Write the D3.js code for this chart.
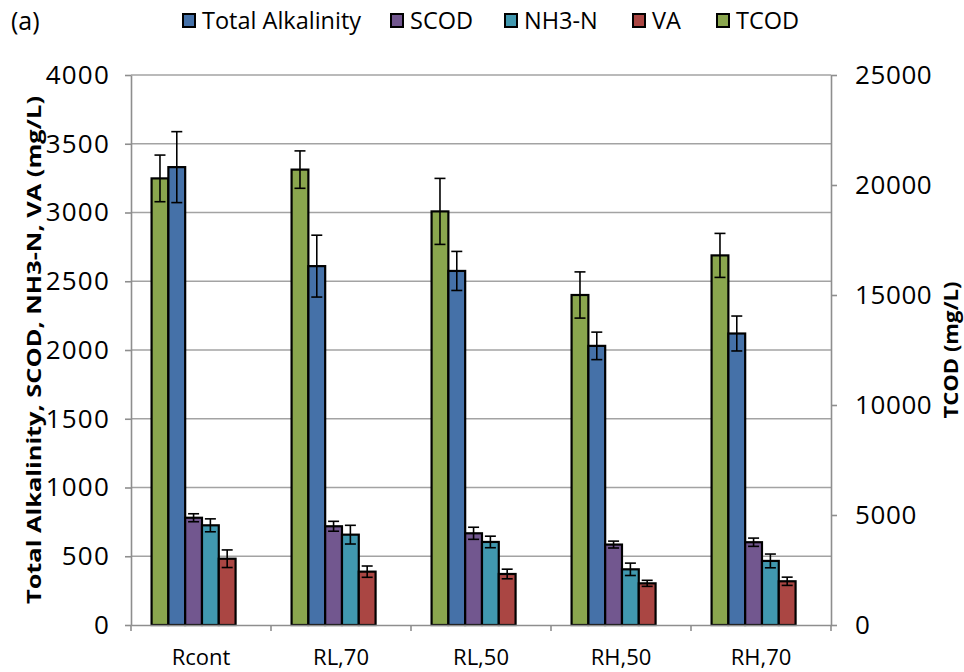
<!DOCTYPE html>
<html>
<head>
<meta charset="utf-8">
<script src="https://cdn.jsdelivr.net/npm/d3@7"></script>
<style>
  html, body { margin: 0; padding: 0; background: #fff; }
  svg { display: block; }
  text { font-family: "Open Sans", "Noto Sans", sans-serif; fill: #000; }
</style>
</head>
<body>
<svg id="chart" width="964" height="672"></svg>
<script>
// Reactor conditions along the x axis
const categories = ["Rcont", "RL,70", "RL,50", "RH,50", "RH,70"];

// Primary-axis parameters (mg/L) with their error-bar half widths
const alkalinity    = [3330, 2610, 2575, 2030, 2120];
const alkalinityErr = [258, 225, 142, 100, 127];
const scod          = [780, 718, 667, 585, 602];
const scodErr       = [29, 36, 44, 25, 30];
const nh3n          = [725, 657, 604, 405, 466];
const nh3nErr       = [47, 68, 42, 45, 50];
const va            = [482, 388, 371, 303, 318];
const vaErr         = [64, 41, 35, 22, 30];

// Secondary-axis parameter (mg/L)
const tcod    = [20300, 20700, 18800, 15000, 16800];
const tcodErr = [1060, 850, 1500, 1050, 1000];

// Axis tick values
const leftTicks  = [0, 500, 1000, 1500, 2000, 2500, 3000, 3500, 4000];
const rightTicks = [0, 5000, 10000, 15000, 20000, 25000];

// Series in drawing order within each group
const series = [
  { name: "TCOD",             values: tcod,       errors: tcodErr,       color: "#8AA64E", axis: "right" },
  { name: "Total Alkalinity", values: alkalinity, errors: alkalinityErr, color: "#4571A8", axis: "left" },
  { name: "SCOD",             values: scod,       errors: scodErr,       color: "#72578F", axis: "left" },
  { name: "NH3-N",            values: nh3n,       errors: nh3nErr,       color: "#4198AF", axis: "left" },
  { name: "VA",               values: va,         errors: vaErr,         color: "#AA4643", axis: "left" }
];
const legendOrder = ["Total Alkalinity", "SCOD", "NH3-N", "VA", "TCOD"];

const svg = d3.select("#chart");
const plot = { left: 131, right: 831, top: 75, bottom: 625 };

const x0 = d3.scaleBand().domain(categories).range([plot.left, plot.right]).padding(0);
const bw = x0.bandwidth();
const x1 = d3.scaleBand().domain(series.map(s => s.name))
  .range([bw * 0.147, bw * 0.747]).padding(0);

const yL = d3.scaleLinear().domain([0, 4000]).range([plot.bottom, plot.top]);
const yR = d3.scaleLinear().domain([0, 25000]).range([plot.bottom, plot.top]);
const yOf = s => (s.axis === "right" ? yR : yL);

const gridColor = "#A3A3A3";
const axisColor = "#8E8E8E";

// Horizontal gridlines from the primary axis
svg.append("g").selectAll("line").data(leftTicks.slice(1)).join("line")
  .attr("x1", plot.left).attr("x2", plot.right)
  .attr("y1", d => yL(d)).attr("y2", d => yL(d))
  .attr("stroke", gridColor).attr("stroke-width", 1.6);

// Bars
const groups = svg.append("g").selectAll("g").data(categories).join("g")
  .attr("transform", d => `translate(${x0(d)},0)`);

groups.each(function (cat, ci) {
  const g = d3.select(this);
  series.forEach(s => {
    const y = yOf(s);
    g.append("rect")
      .attr("x", x1(s.name))
      .attr("y", y(s.values[ci]))
      .attr("width", x1.bandwidth())
      .attr("height", y(0) - y(s.values[ci]))
      .attr("fill", s.color)
      .attr("stroke", "#000").attr("stroke-width", 2.2);
  });
  // Error bars
  series.forEach(s => {
    const y = yOf(s);
    const cx = x1(s.name) + x1.bandwidth() / 2;
    const hi = y(s.values[ci] + s.errors[ci]);
    const lo = y(s.values[ci] - s.errors[ci]);
    const cap = 5.5;
    const eg = g.append("g").attr("stroke", "#000").attr("stroke-width", 1.6);
    eg.append("line").attr("x1", cx).attr("x2", cx).attr("y1", hi).attr("y2", lo);
    eg.append("line").attr("x1", cx - cap).attr("x2", cx + cap).attr("y1", hi).attr("y2", hi);
    eg.append("line").attr("x1", cx - cap).attr("x2", cx + cap).attr("y1", lo).attr("y2", lo);
  });
});

const plain = d3.format("d");

// Left axis
const axL = svg.append("g").attr("transform", `translate(${plot.left},0)`)
  .call(d3.axisLeft(yL).tickValues(leftTicks).tickFormat(plain)
    .tickSize(6).tickSizeOuter(0).tickPadding(15));
// Right axis
const axR = svg.append("g").attr("transform", `translate(${plot.right},0)`)
  .call(d3.axisRight(yR).tickValues(rightTicks).tickFormat(plain)
    .tickSize(6).tickSizeOuter(0).tickPadding(18));
// Bottom axis (labels centred, tick marks on category boundaries)
const axB = svg.append("g").attr("transform", `translate(0,${plot.bottom})`)
  .call(d3.axisBottom(x0).tickSize(0).tickSizeOuter(0).tickPadding(24));
axB.append("g").selectAll("line")
  .data(categories.map(c => x0(c)).concat([x0.range()[1]])).join("line")
  .attr("x1", d => d).attr("x2", d => d).attr("y1", 0).attr("y2", 6)
  .attr("stroke", axisColor).attr("stroke-width", 1.6);

[axL, axR, axB].forEach(a => {
  a.select(".domain").attr("stroke", axisColor).attr("stroke-width", 1.6);
  a.selectAll(".tick line").attr("stroke", axisColor).attr("stroke-width", 1.6);
  a.selectAll("text").attr("font-family", null).style("fill", "#000");
});
axL.selectAll("text").attr("font-size", 26).attr("letter-spacing", 1.2);
axR.selectAll("text").attr("font-size", 26).attr("letter-spacing", 0.6);
axB.selectAll("text").attr("font-size", 22);

// Axis titles
svg.append("text")
  .attr("transform", `translate(41,${(plot.top + plot.bottom) / 2}) rotate(-90)`)
  .attr("text-anchor", "middle").attr("font-weight", "bold").attr("font-size", 20)
  .attr("textLength", 508).attr("lengthAdjust", "spacingAndGlyphs")
  .text("Total Alkalinity, SCOD, NH3-N, VA (mg/L)");
svg.append("text")
  .attr("transform", `translate(958,${(plot.top + plot.bottom) / 2}) rotate(-90)`)
  .attr("text-anchor", "middle").attr("font-weight", "bold").attr("font-size", 20)
  .attr("textLength", 137).attr("lengthAdjust", "spacingAndGlyphs")
  .text("TCOD (mg/L)");

// Panel label
svg.append("text").attr("x", 11).attr("y", 30).attr("font-size", 25).text("(a)");

// Legend
const legendX = { "Total Alkalinity": 183, "SCOD": 391, "NH3-N": 505, "VA": 633, "TCOD": 717 };
const legend = svg.append("g");
legendOrder.forEach(name => {
  const s = series.find(d => d.name === name);
  const lg = legend.append("g").attr("transform", `translate(${legendX[name]},14)`);
  lg.append("rect").attr("width", 12).attr("height", 13)
    .attr("fill", s.color).attr("stroke", "#000").attr("stroke-width", 2);
  lg.append("text").attr("x", 19).attr("y", 15).attr("font-size", 23.5).text(name);
});
</script>
</body>
</html>
